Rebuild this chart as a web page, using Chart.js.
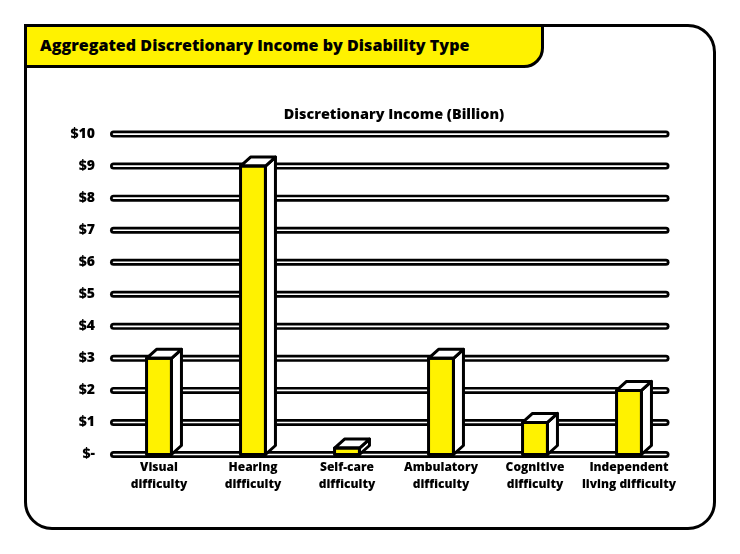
<!DOCTYPE html>
<html lang="en">
<head>
  <meta charset="UTF-8">
  <title>Aggregated Discretionary Income by Disability Type</title>
  <script src="https://cdn.jsdelivr.net/npm/chart.js"></script>
  <style>
    body { margin: 0; background: #fff; font-family: "Open Sans", Arial, sans-serif; }
    #wrap { position: relative; width: 740px; height: 554px; overflow: hidden; }
    .card { position: absolute; left: 24px; top: 24px; width: 686px; height: 500px;
            border: 3px solid #000; border-radius: 0 28px 28px 28px; background: #fff; }
    .tab { position: absolute; left: 24px; top: 24px; width: 514px; height: 38px;
           background: #fff200; border: 3px solid #000; border-radius: 0 0 20px 0; }
    .tab span { position: absolute; left: 13px; top: 7px; font-weight: 800; font-size: 16.1px; color: #000; white-space: nowrap; }
    canvas { position: absolute; left: 0; top: 0; }
  </style>
</head>
<body>
<div id="wrap">
  <div class="card"></div>
  <div class="tab"><span>Aggregated Discretionary Income by Disability Type</span></div>
  <canvas id="chart" width="740" height="554"></canvas>
</div>

<script>
const categories = [
  ['Visual', 'difficulty'],
  ['Hearing', 'difficulty'],
  ['Self-care', 'difficulty'],
  ['Ambulatory', 'difficulty'],
  ['Cognitive', 'difficulty'],
  ['Independent', 'living difficulty']
];
const incomeBillions = [3, 9, 0.2, 3, 1, 2];
const tickLabels = ['$-', '$1', '$2', '$3', '$4', '$5', '$6', '$7', '$8', '$9', '$10'];

// thick capsule gridlines with a thin white core
const pipeGrid = {
  id: 'pipeGrid',
  beforeDatasetsDraw(chart) {
    const { ctx, chartArea, scales } = chart;
    const y = scales.y;
    const x0 = chartArea.left + 1.5, x1 = chartArea.right - 10;
    ctx.save();
    ctx.lineCap = 'round';
    y.ticks.forEach(t => {
      const py = y.getPixelForValue(t.value);
      ctx.strokeStyle = '#000';
      ctx.lineWidth = 7;
      ctx.beginPath();
      ctx.moveTo(x0, py);
      ctx.lineTo(x1, py);
      ctx.stroke();
      ctx.strokeStyle = '#fff';
      ctx.lineWidth = 1.6;
      ctx.beginPath();
      ctx.moveTo(x0, py);
      ctx.lineTo(x1, py);
      ctx.stroke();
    });
    ctx.restore();
  }
};

// top and side faces to give the bars depth
const boxFaces = {
  id: 'boxFaces',
  afterDatasetsDraw(chart) {
    const { ctx } = chart;
    const dx = 10, dy = 9;
    ctx.save();
    ctx.lineWidth = 3;
    ctx.lineJoin = 'round';
    ctx.strokeStyle = '#000';
    ctx.fillStyle = '#fff';
    chart.getDatasetMeta(0).data.forEach(bar => {
      const l = bar.x - bar.width / 2, r = bar.x + bar.width / 2;
      const top = bar.y, base = bar.base;
      ctx.beginPath();
      ctx.moveTo(r, top);
      ctx.lineTo(r + dx, top - dy);
      ctx.lineTo(r + dx, base - dy);
      ctx.lineTo(r, base);
      ctx.closePath();
      ctx.fill();
      ctx.stroke();
      ctx.beginPath();
      ctx.moveTo(l, top);
      ctx.lineTo(l + dx, top - dy);
      ctx.lineTo(r + dx, top - dy);
      ctx.lineTo(r, top);
      ctx.closePath();
      ctx.fill();
      ctx.stroke();
      ctx.strokeRect(l, top, bar.width, base - top);
    });
    ctx.restore();
  }
};

new Chart(document.getElementById('chart').getContext('2d'), {
  type: 'bar',
  data: {
    labels: categories,
    datasets: [{
      label: 'Discretionary Income (Billion)',
      data: incomeBillions,
      backgroundColor: '#fff200',
      borderColor: '#000',
      borderWidth: 0,
      barPercentage: 0.265,
      categoryPercentage: 1
    }]
  },
  options: {
    responsive: false,
    animation: false,
    layout: { padding: { top: 100, right: 64, bottom: 56.5, left: 0 } },
    plugins: {
      legend: { display: false },
      tooltip: { enabled: false },
      title: {
        display: true,
        fullSize: false,
        text: 'Discretionary Income (Billion)',
        color: '#000',
        font: { family: 'Open Sans', size: 14.4, weight: 800 },
        padding: { top: 5.9, bottom: 10.9 }
      }
    },
    scales: {
      x: {
        grid: { display: false, drawTicks: false },
        border: { display: false },
        ticks: { color: '#000', maxRotation: 0, autoSkip: false, padding: 4.5,
                 font: { family: 'Open Sans', size: 12, weight: 800, lineHeight: '17px' } }
      },
      y: {
        min: 0, max: 10,
        afterFit(scale) { scale.width = 112; },
        grid: { display: false },
        border: { display: false },
        ticks: {
          stepSize: 1, padding: 9, color: '#000',
          font: { family: 'Open Sans', size: 14, weight: 800 },
          callback: v => tickLabels[v]
        }
      }
    }
  },
  plugins: [pipeGrid, boxFaces]
});
</script>
</body>
</html>
